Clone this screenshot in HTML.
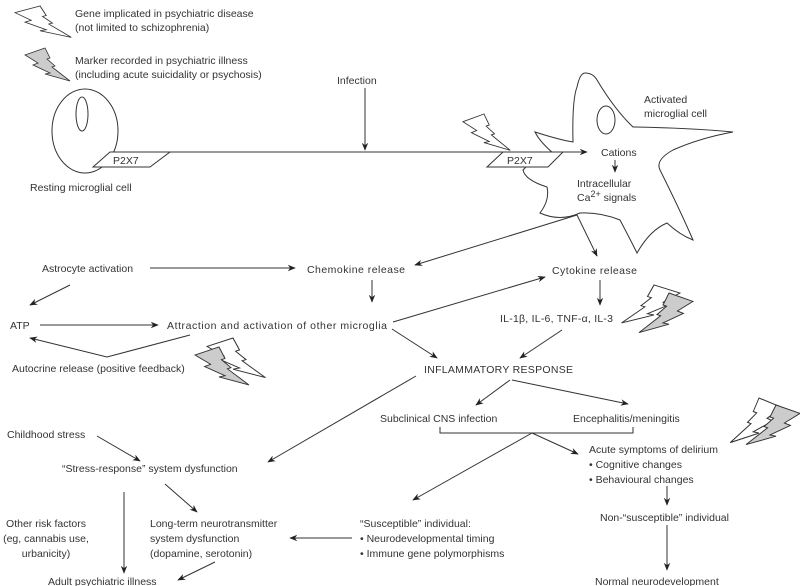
<!DOCTYPE html>
<html><head><meta charset="utf-8"><style>
html,body{margin:0;padding:0;background:#fff;}
svg{display:block;}
text{font-family:"Liberation Sans",sans-serif;font-size:10.5px;fill:#333;}
</style></head><body>
<svg width="800" height="586" viewBox="0 0 800 586" xmlns="http://www.w3.org/2000/svg">
<defs>
<marker id="a" viewBox="0 0 10 10" refX="9" refY="5" markerWidth="8" markerHeight="8" orient="auto" markerUnits="userSpaceOnUse"><path d="M0,1 L10,5 L0,9 L3,5 z" fill="#222"/></marker>
<polygon id="bw" points="0,7 20,0 25,10 22,11 30,18 27,19 45,33 20,26 25,25 8,17 13,15" stroke="#333" stroke-width="0.8" stroke-linejoin="miter"/>
</defs>
<g fill="none" stroke="#333" stroke-width="1">
<!-- legend bolts -->
<use href="#bw" transform="translate(15,6) scale(1.25,0.95)" fill="#fff"/>
<use href="#bw" transform="translate(25,48)" fill="#ccc"/>
<!-- resting cell -->
<ellipse cx="85" cy="131" rx="33" ry="42" fill="#fff"/>
<ellipse cx="82" cy="114" rx="6" ry="17"/>
<polygon points="93,167 110,152 170,152 150,167" fill="#fff"/>
<!-- activated cell -->
<path d="M535,132 Q560,140 573,142 Q572,100 577,87 Q580,73 585,73 Q593,73 597,80 Q615,110 633,127 Q690,128 733,132 Q700,138 673,150 Q655,160 660,170 Q680,210 693,240 Q680,235 667,223 Q650,230 637,253 Q628,235 620,220 Q600,212 580,213 Q560,222 540,213 Q550,200 547,187 Q525,180 523,170 Q530,162 540,160 Q550,158 553,153 Q540,142 535,132 z" fill="#fff"/>
<ellipse cx="606" cy="120" rx="9" ry="14"/>
<polygon points="487,167 503,152 563,152 548,167" fill="#fff"/>
<use href="#bw" transform="translate(463,114) scale(1.05,1.1)" fill="#fff"/>
<line x1="170" y1="152" x2="587" y2="152" marker-end="url(#a)"/>
<line x1="365" y1="88" x2="365" y2="150" marker-end="url(#a)"/>
<line x1="615" y1="160" x2="615" y2="172" marker-end="url(#a)"/>
<!-- from cell -->
<line x1="577" y1="215" x2="415" y2="265" marker-end="url(#a)"/>
<line x1="577" y1="215" x2="597" y2="256" marker-end="url(#a)"/>
<!-- upper left -->
<line x1="150" y1="268" x2="295" y2="268" marker-end="url(#a)"/>
<line x1="372" y1="280" x2="372" y2="302" marker-end="url(#a)"/>
<line x1="70" y1="285" x2="30" y2="305" marker-end="url(#a)"/>
<line x1="40" y1="325" x2="158" y2="325" marker-end="url(#a)"/>
<polyline points="190,335 107,357 30,338" marker-end="url(#a)"/>
<use href="#bw" transform="translate(207,338) scale(1.3,1.2)" fill="#fff"/>
<use href="#bw" transform="translate(195,347) scale(1.2,1.15)" fill="#ccc"/>
<line x1="393" y1="322" x2="545" y2="277" marker-end="url(#a)"/>
<line x1="600" y1="280" x2="600" y2="305" marker-end="url(#a)"/>
<use href="#bw" transform="translate(680,285) scale(-1.3,1.15)" fill="#fff"/>
<use href="#bw" transform="translate(693,293) scale(-1.2,1.2)" fill="#ccc"/>
<line x1="392" y1="329" x2="437" y2="358" marker-end="url(#a)"/>
<line x1="562" y1="330" x2="520" y2="358" marker-end="url(#a)"/>
<line x1="416" y1="376" x2="268" y2="462" marker-end="url(#a)"/>
<line x1="510" y1="380" x2="476" y2="405" marker-end="url(#a)"/>
<line x1="512" y1="380" x2="628" y2="404" marker-end="url(#a)"/>
<polyline points="440,427 440,433 633,433 633,427"/>
<line x1="532" y1="433" x2="413" y2="500" marker-end="url(#a)"/>
<line x1="532" y1="433" x2="578" y2="454" marker-end="url(#a)"/>
<use href="#bw" transform="translate(782,398) scale(-1.15,1.35)" fill="#fff"/>
<use href="#bw" transform="translate(800,405) scale(-1.2,1.2)" fill="#ccc"/>
<line x1="667" y1="486" x2="667" y2="505" marker-end="url(#a)"/>
<line x1="667" y1="525" x2="667" y2="570" marker-end="url(#a)"/>
<line x1="97" y1="436" x2="140" y2="461" marker-end="url(#a)"/>
<line x1="124" y1="492" x2="124" y2="573" marker-end="url(#a)"/>
<line x1="165" y1="484" x2="197" y2="512" marker-end="url(#a)"/>
<line x1="352" y1="538" x2="290" y2="538" marker-end="url(#a)"/>
<line x1="215" y1="562" x2="178" y2="580" marker-end="url(#a)"/>
</g>
<text x="75" y="17">Gene implicated in psychiatric disease</text>
<text x="75" y="31">(not limited to schizophrenia)</text>
<text x="75" y="64">Marker recorded in psychiatric illness</text>
<text x="75" y="78">(including acute suicidality or psychosis)</text>
<text x="337" y="84">Infection</text>
<text x="113" y="164">P2X7</text>
<text x="507" y="164">P2X7</text>
<text x="30" y="191">Resting microglial cell</text>
<text x="644" y="103">Activated</text>
<text x="644" y="117">microglial cell</text>
<text x="601" y="156">Cations</text>
<text x="577" y="187">Intracellular</text>
<text x="577" y="201">Ca<tspan dy="-4" font-size="9">2+</tspan><tspan dy="4"> signals</tspan></text>
<text x="42" y="272">Astrocyte activation</text>
<text x="307" y="273" textLength="98">Chemokine release</text>
<text x="552" y="274" textLength="85">Cytokine release</text>
<text x="10" y="329">ATP</text>
<text x="167" y="329" textLength="220">Attraction and activation of other microglia</text>
<text x="500" y="322" textLength="113">IL-1β, IL-6, TNF-α, IL-3</text>
<text x="12" y="372">Autocrine release (positive feedback)</text>
<text x="424" y="373" textLength="149">INFLAMMATORY RESPONSE</text>
<text x="380" y="422">Subclinical CNS infection</text>
<text x="573" y="422">Encephalitis/meningitis</text>
<text x="7" y="438">Childhood stress</text>
<text x="589" y="453">Acute symptoms of delirium</text>
<text x="589" y="468">• Cognitive changes</text>
<text x="589" y="483">• Behavioural changes</text>
<text x="62" y="472">“Stress-response” system dysfunction</text>
<text x="600" y="521">Non-“susceptible” individual</text>
<text x="595" y="585">Normal neurodevelopment</text>
<text x="360" y="527">“Susceptible” individual:</text>
<text x="360" y="542">• Neurodevelopmental timing</text>
<text x="360" y="557">• Immune gene polymorphisms</text>
<text x="150" y="527">Long-term neurotransmitter</text>
<text x="150" y="542">system dysfunction</text>
<text x="150" y="557">(dopamine, serotonin)</text>
<text x="46" y="527" text-anchor="middle">Other risk factors</text>
<text x="46" y="542" text-anchor="middle">(eg, cannabis use,</text>
<text x="46" y="557" text-anchor="middle">urbanicity)</text>
<text x="48" y="585">Adult psychiatric illness</text>
</svg>
</body></html>
